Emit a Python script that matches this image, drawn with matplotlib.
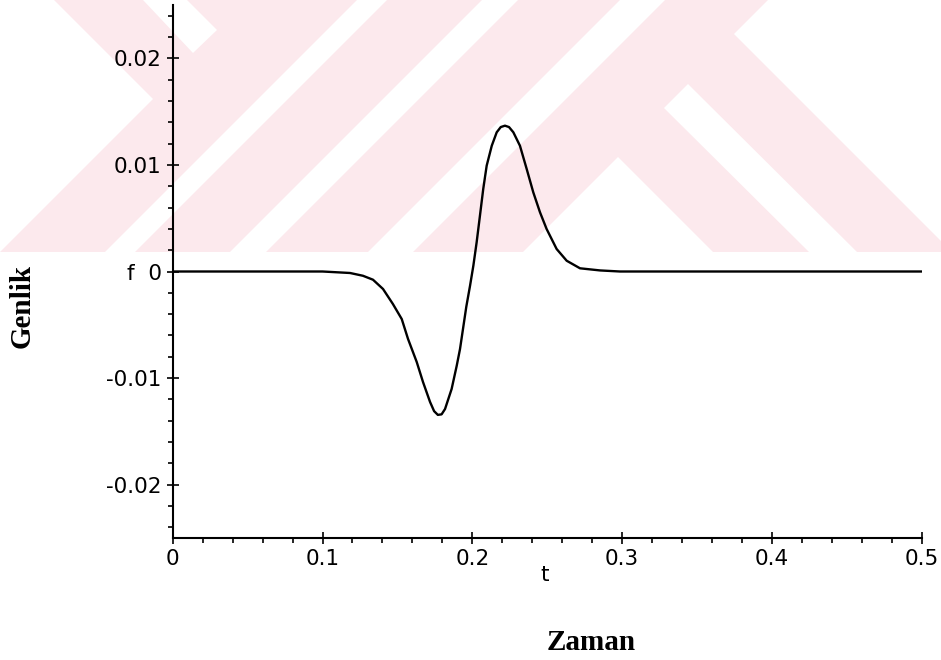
import matplotlib
matplotlib.use('Agg')
import matplotlib.pyplot as plt
from matplotlib.patches import Polygon, Rectangle
from matplotlib.ticker import MultipleLocator, FixedLocator, FixedFormatter


# ------------------------- DATA -------------------------

# values (t in s, f amplitude)
t_vals = [0.0, 0.05, 0.10, 0.1184, 0.127, 0.1337, 0.1404, 0.147, 0.1529,
          0.1571, 0.1629, 0.1671, 0.1718, 0.1745, 0.1770, 0.1795, 0.1818,
          0.1862, 0.1896, 0.1918, 0.196, 0.1985, 0.2007, 0.2029, 0.2051,
          0.2073, 0.2096, 0.213, 0.2163, 0.219, 0.2218, 0.2245, 0.2274,
          0.2318, 0.2363, 0.2407, 0.2452, 0.2496, 0.2563, 0.263, 0.2719,
          0.2853, 0.2986, 0.35, 0.4, 0.45, 0.5]
f_vals = [0.0, 0.0, 0.0, -0.00014, -0.0004, -0.00077, -0.00164, -0.00305, -0.00446,
          -0.00633, -0.00849, -0.01037, -0.01224, -0.0131, -0.01345, -0.0134, -0.0129,
          -0.01102, -0.00884, -0.00727, -0.0033, -0.00133, 0.00054, 0.00274, 0.00523,
          0.00774, 0.00993, 0.0118, 0.01306, 0.01355, 0.01368, 0.01355, 0.01306,
          0.0118, 0.00962, 0.00743, 0.00555, 0.00399, 0.00211, 0.00101, 0.0003,
          0.0001, 0.0, 0.0, 0.0, 0.0, 0.0]

x_ticks = [0, 0.1, 0.2, 0.3, 0.4, 0.5]
x_labels = ['0', '0.1', '0.2', '0.3', '0.4', '0.5']
y_ticks = [-0.02, -0.01, 0, 0.01, 0.02]
y_labels = ['-0.02', '-0.01', 'f  0', '0.01', '0.02']

# ------------------------- FIGURE -------------------------

W, H = 941, 660
fig = plt.figure(figsize=(W / 100, H / 100), dpi=100)

# background watermark, drawn in pixel coords (y down)
bg = fig.add_axes([0, 0, 1, 1], zorder=0)
bg.set_xlim(0, W)
bg.set_ylim(H, 0)
bg.axis('off')
pink = '#fce9ed'
bg.add_patch(Rectangle((0, 0), W, 252, color=pink, lw=0))
holes = [
    [(0, 0), (54, 0), (153, 99), (0, 252)],
    [(143, 0), (187, 0), (217, 30), (193, 53)],
    [(357, 0), (387, 0), (135, 252), (105, 252)],
    [(482, 0), (518, 0), (266, 252), (230, 252)],
    [(620, 0), (665, 0), (413, 252), (368, 252)],
    [(618, 157), (713, 252), (523, 252)],
    [(664, 108), (688, 84), (857, 252), (809, 252)],
    [(768, 0), (941, 0), (941, 241), (734, 34)],
]
for h in holes:
    bg.add_patch(Polygon(h, closed=True, color='white', lw=0))

# main plot
left, right, top, bottom = 172.7, 921.7, 5, 538
ax = fig.add_axes([left / W, 1 - bottom / H, (right - left) / W, (bottom - top) / H], zorder=1)
ax.set_facecolor('none')

ax.plot(t_vals, f_vals, color='black', lw=1.7)

ax.set_xlim(0, 0.5)
ax.set_ylim(-0.025, 0.025)

for s in ['top', 'right']:
    ax.spines[s].set_visible(False)
for s in ['left', 'bottom']:
    ax.spines[s].set_linewidth(1.5)

ax.xaxis.set_major_locator(FixedLocator(x_ticks))
ax.xaxis.set_major_formatter(FixedFormatter(x_labels))
ax.yaxis.set_major_locator(FixedLocator(y_ticks))
ax.yaxis.set_major_formatter(FixedFormatter(y_labels))
ax.xaxis.set_minor_locator(MultipleLocator(0.02))
ax.yaxis.set_minor_locator(MultipleLocator(0.002))

ax.tick_params(which='major', direction='inout', length=8, width=1.2,
               labelsize=15.5, pad=4)
ax.tick_params(which='minor', direction='out', length=3.5, width=1.2)

fig.text(545 / W, 1 - 575 / H, 't', fontsize=15.5, ha='center', va='center')
fig.text(591 / W, 1 - 642 / H, 'Zaman', fontsize=21, fontweight='bold',
         family='Liberation Serif', ha='center', va='center')
fig.text(22 / W, 1 - 306 / H, 'Genlik', fontsize=21, fontweight='bold',
         family='Liberation Serif', rotation=90, ha='center', va='center')

fig.savefig('out.png', dpi=100)
